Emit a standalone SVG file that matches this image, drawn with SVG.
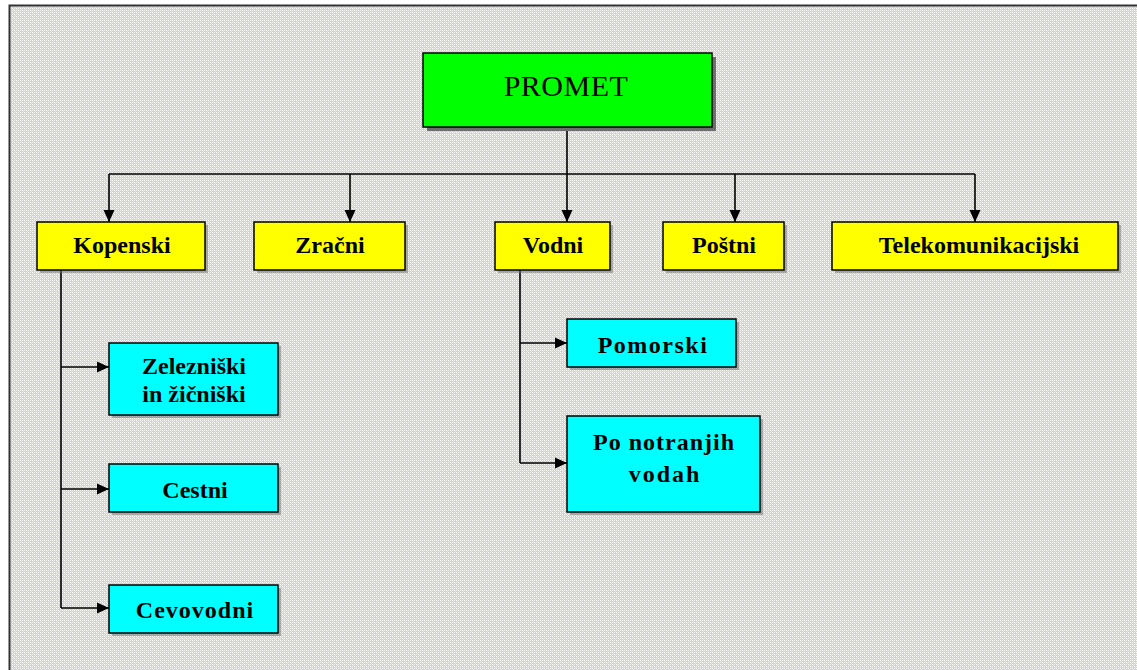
<svg xmlns="http://www.w3.org/2000/svg" width="1137" height="670" viewBox="0 0 1137 670">
<defs>
<pattern id="tex" width="4" height="4" patternUnits="userSpaceOnUse">
<rect width="4" height="4" fill="#d2d2d2"/>
<rect x="0" y="0" width="1" height="1" fill="#ffffff"/>
<rect x="2" y="2" width="1" height="1" fill="#ffffff"/>
<rect x="2" y="0" width="1" height="1" fill="#f0f0f0"/>
<rect x="0" y="2" width="1" height="1" fill="#f6f6e8"/>
<rect x="1" y="1" width="1" height="1" fill="#e6e6e6"/>
<rect x="3" y="3" width="1" height="1" fill="#e6e6e6"/>
</pattern>
<marker id="ah" viewBox="0 0 12 12" refX="12" refY="6" markerWidth="12" markerHeight="12" markerUnits="userSpaceOnUse" orient="auto">
<path d="M0,0.5 L12,6 L0,11.5 Z" fill="#000"/>
</marker>
</defs>
<style>
.box{stroke:#000;stroke-width:1.5}
.sh{fill:#6e6e6e}
.y{fill:#ffff00}
.c{fill:#00ffff}
.g{fill:#00ff00}
.t{font-family:"Liberation Serif","Times New Roman",serif;font-weight:bold;font-size:24px;text-anchor:middle;fill:#000}
.ln{stroke:#000;stroke-width:1.6;fill:none}
</style>
<rect x="0" y="0" width="1137" height="670" fill="#ffffff"/>
<rect x="9" y="5" width="1128" height="665" fill="url(#tex)"/>
<path d="M9.5,670 L9.5,5.5 L1137,5.5" fill="none" stroke="#333" stroke-width="2"/>

<g id="connectors">
<path class="ln" d="M567,127 L567,174"/>
<path class="ln" d="M109,174 L975,174"/>
<path class="ln" d="M109,174 L109,222" marker-end="url(#ah)"/>
<path class="ln" d="M350,174 L350,222" marker-end="url(#ah)"/>
<path class="ln" d="M567,174 L567,222" marker-end="url(#ah)"/>
<path class="ln" d="M735,174 L735,222" marker-end="url(#ah)"/>
<path class="ln" d="M975,174 L975,222" marker-end="url(#ah)"/>
<path class="ln" d="M61,270 L61,608"/>
<path class="ln" d="M61,367 L109,367" marker-end="url(#ah)"/>
<path class="ln" d="M61,489 L109,489" marker-end="url(#ah)"/>
<path class="ln" d="M61,608 L109,608" marker-end="url(#ah)"/>
<path class="ln" d="M520,270 L520,463"/>
<path class="ln" d="M520,343 L567,343" marker-end="url(#ah)"/>
<path class="ln" d="M520,463 L567,463" marker-end="url(#ah)"/>
</g>

<g id="promet">
<rect class="sh" x="427" y="57" width="289" height="74"/>
<rect class="box g" x="423" y="53" width="289" height="74"/>
<text x="566" y="96" style="font-family:'Liberation Serif','Times New Roman',serif;font-size:30px;letter-spacing:0.5px;text-anchor:middle">PROMET</text>
</g>

<g id="kopenski">
<rect class="sh" x="40" y="225" width="168" height="48" opacity="0.5"/>
<rect class="box y" x="37" y="222" width="168" height="48"/>
<text class="t" x="122" y="253">Kopenski</text>
</g>
<g id="zracni">
<rect class="sh" x="257" y="225" width="151" height="48" opacity="0.5"/>
<rect class="box y" x="254" y="222" width="151" height="48"/>
<text class="t" x="330" y="253">Zračni</text>
</g>
<g id="vodni">
<rect class="sh" x="498" y="225" width="115" height="48" opacity="0.5"/>
<rect class="box y" x="495" y="222" width="115" height="48"/>
<text class="t" x="553" y="253">Vodni</text>
</g>
<g id="postni">
<rect class="sh" x="666" y="225" width="121" height="48" opacity="0.5"/>
<rect class="box y" x="663" y="222" width="121" height="48"/>
<text class="t" x="724" y="253">Poštni</text>
</g>
<g id="telekomunikacijski">
<rect class="sh" x="835" y="225" width="286" height="48" opacity="0.5"/>
<rect class="box y" x="832" y="222" width="286" height="48"/>
<text class="t" x="979" y="253">Telekomunikacijski</text>
</g>

<g id="zelezniski">
<rect class="sh" x="112" y="346" width="169" height="72" opacity="0.5"/>
<rect class="box c" x="109" y="343" width="169" height="72"/>
<text class="t" x="194" y="374">Zelezniški</text>
<text class="t" x="194" y="402">in žičniški</text>
</g>
<g id="cestni">
<rect class="sh" x="112" y="467" width="169" height="48" opacity="0.5"/>
<rect class="box c" x="109" y="464" width="169" height="48"/>
<text class="t" x="195" y="498">Cestni</text>
</g>
<g id="cevovodni">
<rect class="sh" x="112" y="588" width="169" height="48" opacity="0.5"/>
<rect class="box c" x="109" y="585" width="169" height="48"/>
<text class="t" x="195" y="618" style="letter-spacing:1px">Cevovodni</text>
</g>
<g id="pomorski">
<rect class="sh" x="570" y="322" width="169" height="48" opacity="0.5"/>
<rect class="box c" x="567" y="319" width="169" height="48"/>
<text class="t" x="653" y="353" style="letter-spacing:1.5px">Pomorski</text>
</g>
<g id="po-notranjih-vodah">
<rect class="sh" x="570" y="419" width="193" height="96" opacity="0.5"/>
<rect class="box c" x="567" y="416" width="193" height="96"/>
<text class="t" x="664" y="450" style="letter-spacing:1px">Po notranjih</text>
<text class="t" x="665" y="482" style="letter-spacing:2px">vodah</text>
</g>
</svg>
